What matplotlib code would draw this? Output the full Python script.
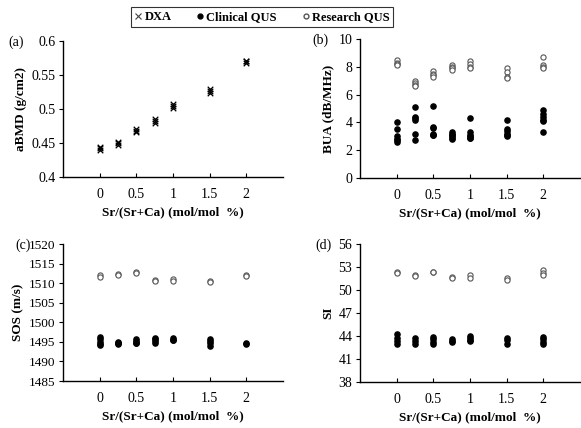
import matplotlib
matplotlib.use("Agg")
import matplotlib.pyplot as plt
from matplotlib.lines import Line2D

plt.rcParams['font.family'] = ['Liberation Serif', 'DejaVu Serif']

x_ticks = [0, 0.5, 1, 1.5, 2]
x_ticklabels = ['0', '0.5', '1', '1.5', '2']
x_label = 'Sr/(Sr+Ca) (mol/mol  %)'

# Panel (a) DXA aBMD
dxa_x = [0, 0, 0, 0.25, 0.25, 0.25, 0.5, 0.5, 0.5, 0.75, 0.75, 0.75, 1, 1, 1, 1.5, 1.5, 1.5, 2, 2, 2]
dxa_y = [0.440, 0.442, 0.444, 0.447, 0.450, 0.452, 0.466, 0.468, 0.470, 0.479, 0.482, 0.485,
         0.502, 0.505, 0.507, 0.524, 0.527, 0.530, 0.568, 0.570, 0.571]

# Panel (b) BUA
bua_clin_x = [0]*6 + [0.25]*6 + [0.5]*6 + [0.75]*6 + [1]*6 + [1.5]*6 + [2]*6
bua_clin_y = [4.0, 3.5, 3.0, 2.8, 2.7, 2.6,
              5.1, 4.4, 4.2, 4.3, 3.2, 2.7,
              5.2, 3.7, 3.6, 3.1, 3.1, 3.2,
              3.2, 3.1, 3.0, 2.9, 2.8, 3.3,
              4.3, 3.3, 3.1, 3.0, 2.9, 2.9,
              4.2, 3.5, 3.4, 3.2, 3.1, 3.0,
              4.9, 4.6, 4.4, 4.2, 4.1, 3.3]
bua_res_x = [0]*4 + [0.25]*4 + [0.5]*4 + [0.75]*4 + [1]*4 + [1.5]*4 + [2]*4
bua_res_y = [8.5, 8.3, 8.2, 8.1,
             7.0, 6.8, 6.7, 6.6,
             7.7, 7.5, 7.4, 7.3,
             8.1, 8.0, 7.9, 7.8,
             8.4, 8.2, 8.0, 7.9,
             7.9, 7.6, 7.3, 7.2,
             8.7, 8.1, 8.0, 7.9]

# Panel (c) SOS
sos_clin_x = [0]*5 + [0.25]*4 + [0.5]*4 + [0.75]*4 + [1]*3 + [1.5]*4 + [2]*2
sos_clin_y = [1496.3, 1495.8, 1495.0, 1494.5, 1494.3,
              1495.0, 1494.6, 1494.4, 1494.7,
              1495.8, 1495.3, 1494.8, 1494.6,
              1496.1, 1495.7, 1495.2, 1494.8,
              1495.9, 1495.6, 1495.4,
              1495.8, 1495.3, 1494.8, 1494.0,
              1494.7, 1494.4]
sos_res_x = [0]*2 + [0.25]*2 + [0.5]*2 + [0.75]*2 + [1]*2 + [1.5]*2 + [2]*2
sos_res_y = [1512.0, 1511.6, 1512.3, 1512.1, 1512.8, 1512.6, 1510.7, 1510.5,
             1511.0, 1510.6, 1510.6, 1510.4, 1512.1, 1511.9]

# Panel (d) SI
si_clin_x = [0]*4 + [0.25]*3 + [0.5]*4 + [0.75]*3 + [1]*4 + [1.5]*3 + [2]*4
si_clin_y = [44.2, 43.8, 43.4, 42.9,
             43.7, 43.4, 43.0,
             43.9, 43.6, 43.2, 42.9,
             43.6, 43.3, 43.2,
             44.0, 43.8, 43.5, 43.4,
             43.7, 43.5, 42.9,
             43.9, 43.6, 43.2, 43.0]
si_res_x = [0]*2 + [0.25]*2 + [0.5]*2 + [0.75]*2 + [1]*2 + [1.5]*2 + [2]*3
si_res_y = [52.4, 52.2, 52.0, 51.8, 52.4, 52.3, 51.7, 51.5, 51.9, 51.6, 51.6, 51.3, 52.6, 52.2, 52.0]

fig = plt.figure(figsize=(5.81, 4.28), dpi=100)

W = 0.3787
axa = fig.add_axes([0.1084, 0.5864, W, 0.3178])
axb = fig.add_axes([0.6196, 0.5841, W, 0.3248])
axc = fig.add_axes([0.1084, 0.1098, W, 0.3201])
axd = fig.add_axes([0.6196, 0.1075, W, 0.3224])

ms_s = 14
def style(ax, ylim, yticks, ylabel, panel, px, py, ylsize=10):
    ax.set_xlim(-0.5, 2.5)
    ax.set_ylim(*ylim)
    ax.set_yticks(yticks)
    ax.set_xticks(x_ticks)
    ax.set_xticklabels(x_ticklabels)
    for s in ['top', 'right']:
        ax.spines[s].set_visible(False)
    for s in ['left', 'bottom']:
        ax.spines[s].set_linewidth(1.0)
    ax.tick_params(axis='x', direction='in', length=3, labelsize=10, pad=8)
    ax.tick_params(axis='y', direction='out', length=3, labelsize=ylsize, pad=2.5)
    ax.set_xlabel(x_label, fontsize=9.5, fontweight='bold', labelpad=4)
    ax.set_ylabel(ylabel, fontsize=9.5, fontweight='bold', labelpad=3)
    fig.text(px / 581, 1 - py / 428, panel, fontsize=10, va='center', ha='left')

axa.scatter(dxa_x, dxa_y, marker='x', s=16, c='black', linewidths=0.9)
style(axa, (0.4, 0.6), [0.4, 0.45, 0.5, 0.55, 0.6], 'aBMD (g/cm2)', '(a)', 8, 42)
axa.set_yticklabels(['0.4', '0.45', '0.5', '0.55', '0.6'])

axb.scatter(bua_clin_x, bua_clin_y, marker='o', s=ms_s, c='black')
axb.scatter(bua_res_x, bua_res_y, marker='o', s=ms_s, facecolors='white', edgecolors='#555555', linewidths=0.8)
style(axb, (0, 10), [0, 2, 4, 6, 8, 10], 'BUA (dB/MHz)', '(b)', 312, 40)

axc.scatter(sos_clin_x, sos_clin_y, marker='o', s=ms_s, c='black')
axc.scatter(sos_res_x, sos_res_y, marker='o', s=ms_s, facecolors='white', edgecolors='#555555', linewidths=0.8)
style(axc, (1485, 1520), [1485, 1490, 1495, 1500, 1505, 1510, 1515, 1520], 'SOS (m/s)', '(c)', 15, 245, ylsize=9.5)

axd.scatter(si_clin_x, si_clin_y, marker='o', s=ms_s, c='black')
axd.scatter(si_res_x, si_res_y, marker='o', s=ms_s, facecolors='white', edgecolors='#555555', linewidths=0.8)
style(axd, (38, 56), [38, 41, 44, 47, 50, 53, 56], 'SI', '(d)', 315, 245)

handles = [
    Line2D([], [], marker='x', linestyle='none', color='#444444', markersize=4, markeredgewidth=0.8),
    Line2D([], [], marker='o', linestyle='none', color='black', markersize=3.5),
    Line2D([], [], marker='o', linestyle='none', markerfacecolor='white', markeredgecolor='#555555', markersize=3.5),
]
leg = fig.legend(handles, ['DXA', 'Clinical QUS', 'Research QUS'], loc='center',
                 bbox_to_anchor=(262/581, 1 - 17/428), ncol=3, frameon=True, fancybox=False,
                 prop={'weight': 'bold', 'size': 9}, handlelength=0.6, handletextpad=0.2,
                 columnspacing=2.0, borderpad=0.3)
leg.get_frame().set_edgecolor('black')
leg.get_frame().set_linewidth(0.8)

fig.savefig('out.png', dpi=100)
